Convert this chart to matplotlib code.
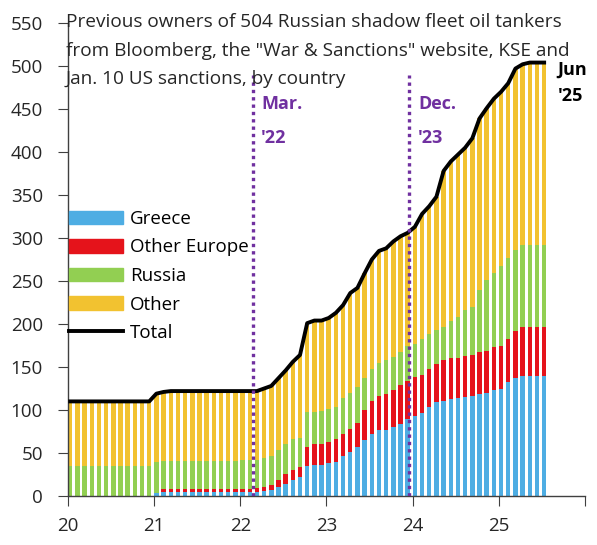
import matplotlib.pyplot as plt
from matplotlib.patches import Patch
from matplotlib.lines import Line2D
import numpy as np
import pandas as pd

plt.rcParams['font.family'] = 'Open Sans'

# monthly, Jan 2020 .. Jul 2025
months = pd.date_range('2020-01-01', periods=67, freq='MS')

greece = [0]*12 + [4, 5] + [5]*12 + [5, 6, 7, 10, 14, 19, 22, 35, 36, 36,
          38, 40, 46, 51, 57, 65, 72, 77, 77, 80, 84, 89,
          93, 96, 104, 109, 111, 113, 114, 115, 116, 119, 120, 123,
          125, 133, 137, 139, 139, 139, 139]
other_europe = [0]*12 + [0, 3] + [3]*12 + [4, 5, 6, 9, 12, 11, 12, 22, 25, 25,
                25, 26, 26, 27, 28, 35, 38, 39, 42, 43, 45, 45,
                45, 45, 44, 45, 47, 47, 47, 48, 48, 48, 49, 50,
                49, 50, 55, 57, 57, 57, 57]
russia = [35]*12 + [36, 33] + [33]*10 + [34, 34] + [33, 33, 34, 34, 34, 36, 34, 41, 37, 38,
          38, 38, 42, 42, 42, 37, 38, 39, 39, 39, 39, 41,
          39, 41, 40, 39, 39, 43, 47, 53, 56, 73, 82, 86,
          93, 94, 94, 96, 96, 96, 96]
other = [75]*12 + [79, 80] + [81]*10 + [80, 80] + [80, 81, 81, 84, 86, 90, 96, 103, 106, 105,
         106, 109, 108, 116, 115, 122, 127, 130, 130, 134, 134, 131,
         136, 146, 149, 155, 181, 186, 189, 189, 196, 199, 200, 203,
         203, 203, 211, 210, 212, 212, 212]

labels = ['Greece', 'Other Europe', 'Russia', 'Other']
colors = ['#4EADE3', '#E5131B', '#92CF52', '#F2C230']

title_lines = ['Previous owners of 504 Russian shadow fleet oil tankers',
               'from Bloomberg, the "War & Sanctions" website, KSE and',
               'Jan. 10 US sanctions, by country']

x = (months.year - 2000) + (months.month - 1) / 12
w = 0.62 / 12

fig = plt.figure(figsize=(5.97, 5.45), dpi=100)
ax = fig.add_axes([68/597, 1 - 496/545, (585-68)/597, (496-23)/545])

bottom = np.zeros(len(x))
for vals, c in zip([greece, other_europe, russia, other], colors):
    ax.bar(x, vals, width=w, bottom=bottom, color=c, align='edge', linewidth=0)
    bottom += np.array(vals)

ax.plot(x + w/2, bottom, color='black', lw=2.8, solid_joinstyle='round', zorder=5)

# event markers
purple = '#7030A0'
for xv, txt in [(22.143, "Mar.\n'22"), (23.961, "Dec.\n'23")]:
    ax.vlines(xv, 0, 490, colors=purple, linestyles=(0, (1, 1.2)), lw=2.4, zorder=6)
    ax.text(xv + 0.1, 466, txt, color=purple, fontsize=13, fontweight='bold',
            va='top', ha='left', linespacing=2.1)
ax.text(25.68, 506, "Jun\n'25", color='black', fontsize=13, fontweight='bold',
        va='top', ha='left', linespacing=1.6)

ax.set_xlim(20, 26)
ax.set_ylim(0, 550)
ax.set_xticks(range(20, 27))
ax.set_xticklabels(['20', '21', '22', '23', '24', '25', ''])
ax.set_yticks(range(0, 551, 50))
for s in ['top', 'right']:
    ax.spines[s].set_visible(False)
for s in ['left', 'bottom']:
    ax.spines[s].set_color('#404040')
    ax.spines[s].set_linewidth(1.0)
ax.tick_params(direction='out', length=7, color='#404040', labelsize=13.5,
               labelcolor='#262626')
ax.tick_params(axis='y', pad=11)
ax.tick_params(axis='x', pad=8)

for k, line in enumerate(title_lines):
    fig.text(66/597, 1 - (22 + k*28.5)/545, line, fontsize=13.7, color='#262626',
             va='center', ha='left')

handles = [Patch(color=c) for c in colors] + [Line2D([], [], color='black', lw=2.8)]
ax.legend(handles, labels + ['Total'], loc='upper left',
          bbox_to_anchor=(69/597, 1 - 210/545), bbox_transform=fig.transFigure,
          frameon=False, prop={'size': 13.5},
          handlelength=2.9, handleheight=0.7, handletextpad=0.35,
          labelspacing=0.56, borderpad=0, borderaxespad=0)

fig.savefig('out.png', dpi=100)
